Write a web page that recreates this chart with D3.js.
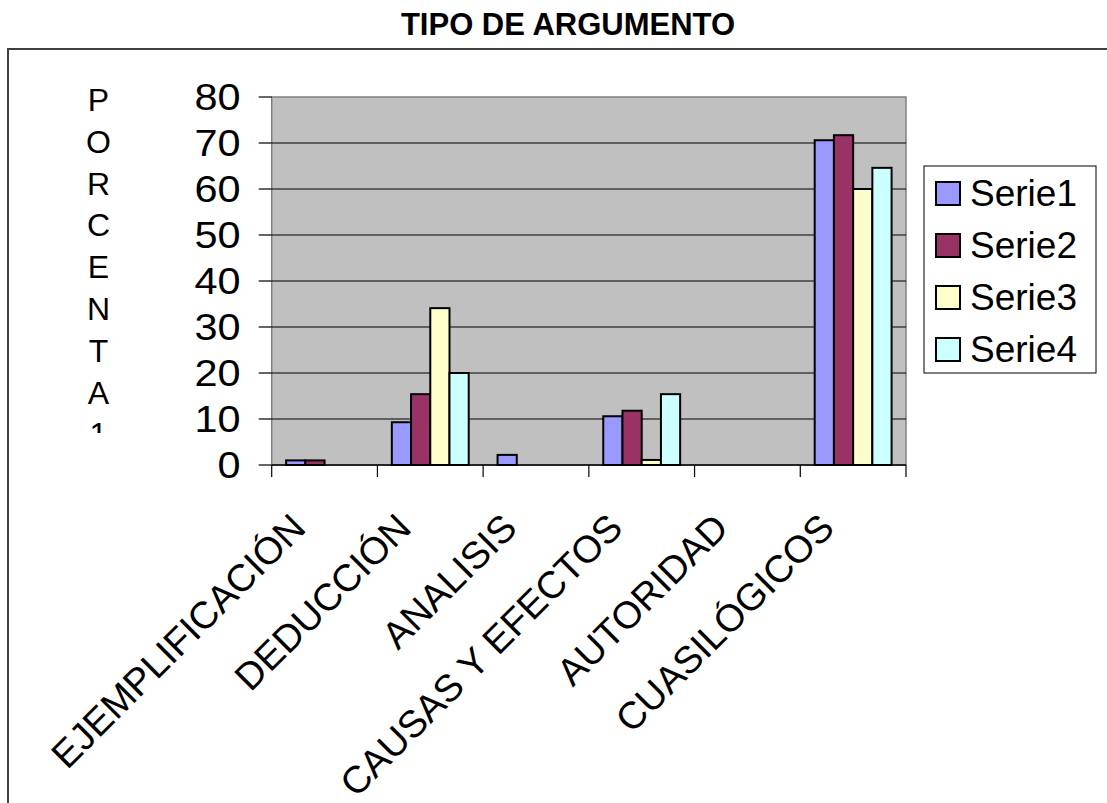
<!DOCTYPE html>
<html>
<head>
<meta charset="utf-8">
<script src="https://cdn.jsdelivr.net/npm/d3@7"></script>
<style>
  body { margin: 0; background: #fff; }
  text { font-family: "Liberation Sans", Arial, sans-serif; fill: #000; }
</style>
</head>
<body>
<div id="chart"></div>
<script>
// data
var categories = ["EJEMPLIFICACIÓN", "DEDUCCIÓN", "ANALISIS", "CAUSAS Y EFECTOS", "AUTORIDAD", "CUASILÓGICOS"];
var seriesNames = ["Serie1", "Serie2", "Serie3", "Serie4"];
var serie1 = [1, 9.3, 2.2, 10.6, 0, 70.6];
var serie2 = [1, 15.4, 0, 11.8, 0, 71.7];
var serie3 = [0, 34.1, 0, 1.1, 0, 60];
var serie4 = [0, 20, 0, 15.4, 0, 64.6];
var yTicks = [0, 10, 20, 30, 40, 50, 60, 70, 80];
var axisTitle = "PORCENTA1";
var colors = ["#9999FF", "#993366", "#FFFFCC", "#CCFFFF"];

(function () {
  var width = 1107, height = 803;
  var pLeft = 271.7, pRight = 906, pTop = 97, pBottom = 465;

  var svg = d3.select('#chart').append('svg').attr('width', width).attr('height', height);

  // outer chart frame
  svg.append('rect').attr('x', 8).attr('y', 49).attr('width', 1120).attr('height', 800)
    .attr('fill', 'none').attr('stroke', '#404040').attr('stroke-width', 2);

  svg.append('text').attr('x', 568).attr('y', 35).attr('text-anchor', 'middle')
    .style('font-weight', 'bold').style('font-size', '31px').text('TIPO DE ARGUMENTO');

  var x0 = d3.scaleBand().domain(categories).range([pLeft, pRight]);
  var x1 = d3.scaleBand().domain(seriesNames).range([0, x0.bandwidth()]).paddingOuter(0.75);
  var y = d3.scaleLinear().domain([0, 80]).range([pBottom, pTop]);

  // plot area
  svg.append('rect').attr('x', pLeft).attr('y', pTop).attr('width', pRight - pLeft).attr('height', pBottom - pTop)
    .attr('fill', '#C0C0C0').attr('stroke', '#808080').attr('stroke-width', 1.5);

  svg.append('g').selectAll('line').data(yTicks.filter(function (t) { return t > 0 && t < 80; }))
    .enter().append('line')
    .attr('x1', pLeft).attr('x2', pRight)
    .attr('y1', function (d) { return y(d); }).attr('y2', function (d) { return y(d); })
    .attr('stroke', '#000').attr('stroke-width', 1.2);

  // bars
  var rows = [serie1, serie2, serie3, serie4];
  var bars = [];
  rows.forEach(function (vals, s) {
    vals.forEach(function (v, i) {
      if (v > 0) bars.push({ cat: categories[i], serie: seriesNames[s], value: v, color: colors[s] });
    });
  });
  svg.append('g').selectAll('rect').data(bars).enter().append('rect')
    .attr('x', function (d) { return x0(d.cat) + x1(d.serie); })
    .attr('y', function (d) { return y(d.value); })
    .attr('width', x1.bandwidth())
    .attr('height', function (d) { return y(0) - y(d.value); })
    .attr('fill', function (d) { return d.color; })
    .attr('stroke', '#000').attr('stroke-width', 2);

  // y axis
  var yAxis = svg.append('g');
  yAxis.selectAll('line').data(yTicks).enter().append('line')
    .attr('x1', pLeft - 13).attr('x2', pLeft)
    .attr('y1', function (d) { return y(d); }).attr('y2', function (d) { return y(d); })
    .attr('stroke', '#000').attr('stroke-width', 1.2);
  yAxis.selectAll('text').data(yTicks).enter().append('text')
    .attr('transform', function (d) { return 'translate(240.5,' + (y(d) + 12.5) + ') scale(1.12,1)'; })
    .attr('text-anchor', 'end').style('font-size', '37px')
    .text(function (d) { return d; });

  // x axis
  svg.append('line').attr('x1', pLeft).attr('x2', pRight).attr('y1', pBottom).attr('y2', pBottom)
    .attr('stroke', '#000').attr('stroke-width', 1.5);
  var bounds = categories.map(function (c) { return x0(c); }).concat([pRight]);
  svg.append('g').selectAll('line').data(bounds).enter().append('line')
    .attr('x1', function (d) { return d; }).attr('x2', function (d) { return d; })
    .attr('y1', pBottom).attr('y2', pBottom + 12)
    .attr('stroke', '#000').attr('stroke-width', 1.2);
  svg.append('g').selectAll('text').data(categories).enter().append('text')
    .attr('transform', function (d) {
      var cx = x0(d) + x0.bandwidth() / 2;
      return 'translate(' + (cx - 17) + ',' + (pBottom + 65) + ') rotate(-45)';
    })
    .attr('text-anchor', 'end').style('font-size', '38px')
    .text(function (d) { return d; });

  // vertical axis title, one letter per line, last one cut off
  svg.append('clipPath').attr('id', 'titleclip').append('rect')
    .attr('x', 60).attr('y', 60).attr('width', 80).attr('height', 373);
  svg.append('g').attr('clip-path', 'url(#titleclip)')
    .selectAll('text').data(axisTitle.split('')).enter().append('text')
    .attr('x', 98.5).attr('y', function (d, i) { return 111 + i * 41.8; })
    .attr('text-anchor', 'middle').style('font-size', '32px')
    .text(function (d) { return d; });

  // legend
  var legend = svg.append('g');
  legend.append('rect').attr('x', 924).attr('y', 166).attr('width', 172).attr('height', 207)
    .attr('fill', '#fff').attr('stroke', '#000').attr('stroke-width', 1);
  var item = legend.selectAll('g.item').data(seriesNames).enter().append('g')
    .attr('transform', function (d, i) { return 'translate(936,' + (182 + i * 52) + ')'; });
  item.append('rect').attr('width', 24).attr('height', 23)
    .attr('fill', function (d, i) { return colors[i]; })
    .attr('stroke', '#000').attr('stroke-width', 2);
  item.append('text').attr('x', 34).attr('y', 24)
    .style('font-size', '37px').text(function (d) { return d; });
})();
</script>
</body>
</html>
